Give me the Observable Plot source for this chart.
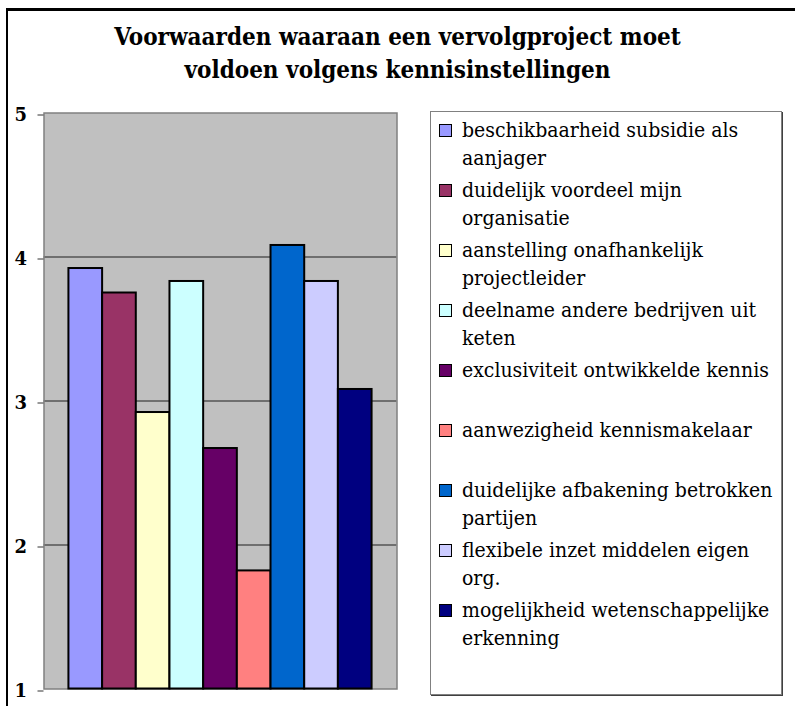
<!DOCTYPE html>
<html><head><meta charset="utf-8">
<script src="https://cdn.jsdelivr.net/npm/d3@7"></script>
<script src="https://cdn.jsdelivr.net/npm/@observablehq/plot@0.6"></script>
<style>
body{margin:0;background:#fff;}
#root{position:relative;width:795px;height:706px;overflow:hidden;font-family:"DejaVu Serif",serif;color:#000;}
#frame{position:absolute;left:6px;top:8px;width:900px;height:800px;border-left:2px solid #000;border-top:3px solid #000;}
#title{position:absolute;left:0;width:795px;top:20px;text-align:center;font-weight:bold;font-size:24px;line-height:33px;font-family:"DejaVu Serif Condensed","DejaVu Serif",serif;}
#chart{position:absolute;left:0;top:99px;line-height:0;}
#chart svg{display:block;}
#legend{position:absolute;left:430px;top:111px;width:350px;height:582px;border:1px solid #808080;box-shadow:1px 1px 0 #404040;}
.item{position:absolute;left:0;width:350px;}
.sw{position:absolute;left:8px;width:11px;height:11px;border:1.5px solid #000;}
.lab{position:absolute;left:31px;white-space:pre;font-size:21px;line-height:28px;font-family:"DejaVu Serif Condensed","DejaVu Serif",serif;}
</style></head>
<body><div id="root">
<div id="frame"></div>
<div id="title">Voorwaarden waaraan een vervolgproject moet<br>voldoen volgens kennisinstellingen</div>
<div id="chart"></div>
<div id="legend"></div>
</div>
<script>
const categories = [
  "beschikbaarheid subsidie als aanjager",
  "duidelijk voordeel mijn organisatie",
  "aanstelling onafhankelijk projectleider",
  "deelname andere bedrijven uit keten",
  "exclusiviteit ontwikkelde kennis",
  "aanwezigheid kennismakelaar",
  "duidelijke afbakening betrokken partijen",
  "flexibele inzet middelen eigen org.",
  "mogelijkheid wetenschappelijke erkenning"
];
const legendLabels = [
  "beschikbaarheid subsidie als\naanjager",
  "duidelijk voordeel mijn\norganisatie",
  "aanstelling onafhankelijk\nprojectleider",
  "deelname andere bedrijven uit\nketen",
  "exclusiviteit ontwikkelde kennis",
  "aanwezigheid kennismakelaar",
  "duidelijke afbakening betrokken\npartijen",
  "flexibele inzet middelen eigen\norg.",
  "mogelijkheid wetenschappelijke\nerkenning"
];
const values = [3.92, 3.75, 2.92, 3.83, 2.67, 1.82, 4.08, 3.83, 3.08];
const colors = ["#9999FF","#993366","#FFFFCC","#CCFFFF","#660066","#FF8080","#0066CC","#CCCCFF","#000080"];
const yTicks = [1, 2, 3, 4, 5];
const gridTicks = [2, 3, 4];

const data = categories.map((c, i) => ({cat: c, value: values[i]}));

const chart = Plot.plot({
  width: 420,
  height: 600,
  marginLeft: 43.5,
  marginRight: 23.5,
  marginTop: 13.5,
  marginBottom: 10.5,
  style: {fontFamily: "'DejaVu Serif', serif", background: "transparent", overflow: "visible"},
  x: {domain: categories, paddingInner: 0, paddingOuter: 0.74, round: false, axis: null},
  y: {domain: [1, 5]},
  color: {domain: categories, range: colors},
  marks: [
    Plot.frame({fill: "#C0C0C0", stroke: null}),
    Plot.ruleY(gridTicks, {stroke: "#555555", strokeWidth: 1.5}),
    Plot.frame({stroke: "#808080", strokeWidth: 1.5}),
    Plot.barY(data, {x: "cat", y1: 1, y2: "value", fill: "cat", stroke: "#000", strokeWidth: 2, insetLeft: 0, insetRight: 0}),
    Plot.axisY({ticks: yTicks, tickSize: 6, tickPadding: 11, fontSize: 18, fontWeight: "bold", dy: 2, stroke: "#333", label: null, tickFormat: d => String(d)})
  ]
});
document.getElementById("chart").appendChild(chart);

const legend = document.getElementById("legend");
legendLabels.forEach((t, i) => {
  const item = document.createElement("div");
  item.className = "item";
  item.style.top = (4 + i * 60) + "px";
  const sw = document.createElement("div");
  sw.className = "sw";
  sw.style.top = "8px";
  sw.style.background = colors[i];
  const lab = document.createElement("div");
  lab.className = "lab";
  lab.style.top = "0px";
  lab.textContent = t;
  item.appendChild(sw);
  item.appendChild(lab);
  legend.appendChild(item);
});
</script>
</body></html>
